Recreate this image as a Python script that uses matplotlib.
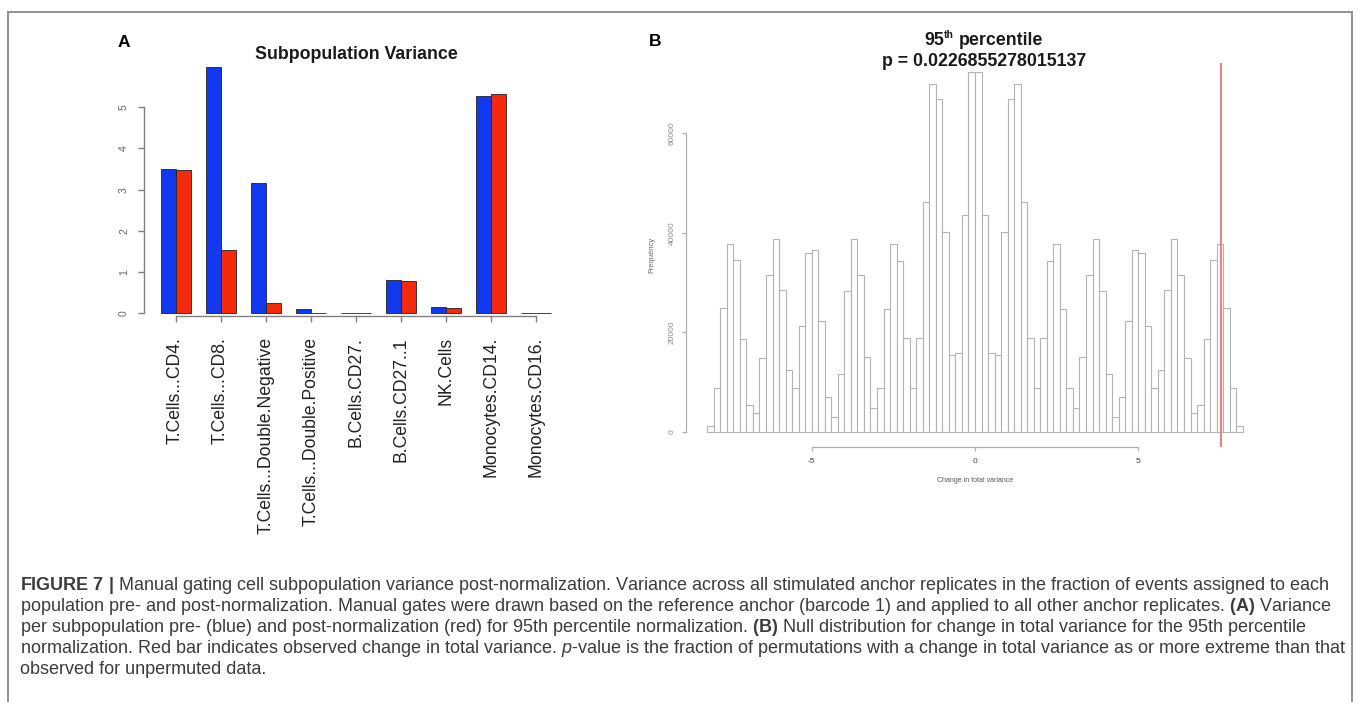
import numpy as np
import matplotlib
matplotlib.use("Agg")
import matplotlib.pyplot as plt
from matplotlib.lines import Line2D
from matplotlib import font_manager

# ---------------- data ----------------
categories = ["T.Cells...CD4.", "T.Cells...CD8.", "T.Cells...Double.Negative",
              "T.Cells...Double.Positive", "B.Cells.CD27.", "B.Cells.CD27..1",
              "NK.Cells", "Monocytes.CD14.", "Monocytes.CD16."]
pre_variance = [3.50, 5.97, 3.17, 0.11, 0.01, 0.80, 0.16, 5.27, 0.01]
post_variance = [3.48, 1.54, 0.24, 0.015, 0.01, 0.79, 0.13, 5.31, 0.01]
a_yticks = [0, 1, 2, 3, 4, 5]

hist_lo, hist_hi, hist_nbins = -8.2, 8.2, 82
hist_counts = [1150, 8700, 24800, 37800, 34500, 18600, 5300, 3700, 14800, 31400,
               38800, 28500, 12400, 8700, 21300, 36000, 36600, 22300, 7000, 3000,
               11600, 28300, 38700, 31500, 15000, 4700, 8700, 24600, 37700, 34400,
               18900, 8850, 18900, 46200, 69900, 66900, 40100, 15400, 15900, 43500,
               72400,
               72400, 43500, 15900, 15400, 40100, 66900, 69900, 46200, 18900, 8850,
               18900, 34400, 37700, 24600, 8700, 4700, 15000, 31500, 38700, 28300,
               11600, 3000, 7000, 22300, 36600, 36000, 21300, 8700, 12400, 28500,
               38800, 31400, 14800, 3700, 5300, 18600, 34500, 37800, 24800, 8700,
               1150]
observed_change = 7.52
b_xticks = [-5, 0, 5]
b_yticks = [0, 20000, 40000, 60000]
title_a = "Subpopulation Variance"
title_b_line2 = "p = 0.0226855278015137"

caption_lines = [
    r"$\mathbf{FIGURE\ 7\ |}$ Manual gating cell subpopulation variance post-normalization. Variance across all stimulated anchor replicates in the fraction of events assigned to each",
    r"population pre- and post-normalization. Manual gates were drawn based on the reference anchor (barcode 1) and applied to all other anchor replicates. $\mathbf{(A)}$ Variance",
    r"per subpopulation pre- (blue) and post-normalization (red) for 95th percentile normalization. $\mathbf{(B)}$ Null distribution for change in total variance for the 95th percentile",
    r"normalization. Red bar indicates observed change in total variance. $\mathit{p}$-value is the fraction of permutations with a change in total variance as or more extreme than that",
    "observed for unpermuted data.",
]

# ---------------- setup ----------------
W, H, DPI = 1358, 702, 100
plt.rcParams["font.family"] = ["Liberation Sans", "DejaVu Sans"]
plt.rcParams["axes.unicode_minus"] = False


def has_font(name):
    try:
        font_manager.findfont(font_manager.FontProperties(family=name),
                              fallback_to_default=False)
        return True
    except Exception:
        return False


cap_family = "Liberation Sans Narrow" if has_font("Liberation Sans Narrow") else "Liberation Sans"
plt.rcParams["mathtext.fontset"] = "custom"
plt.rcParams["mathtext.rm"] = cap_family
plt.rcParams["mathtext.bf"] = cap_family + ":bold"
plt.rcParams["mathtext.it"] = cap_family + ":italic"

fig = plt.figure(figsize=(W / DPI, H / DPI), dpi=DPI)
fig.patch.set_facecolor("white")


def box(left, top, right, bottom):
    return [left / W, 1 - bottom / H, (right - left) / W, (bottom - top) / H]


def fx(x):
    return x / W


def fy(y):
    return 1 - y / H


PT = 72.0 / DPI  # points per pixel

# ---------------- frame ----------------
for xs, ys in [((8, 1352), (12, 12)), ((8, 8), (12, 702)), ((1352, 1352), (12, 702))]:
    fig.add_artist(Line2D([fx(xs[0]), fx(xs[1])], [fy(ys[0]), fy(ys[1])],
                          transform=fig.transFigure, color="#8a8a8a", lw=1.3))

# ---------------- panel A ----------------
axA = fig.add_axes(box(144, 57.4, 566, 316))
xb = [1 + 3 * i for i in range(len(categories))]
xr = [2 + 3 * i for i in range(len(categories))]
axA.bar(xb, pre_variance, width=1, align="edge", color="#1238f0",
        edgecolor="#222222", linewidth=0.6)
axA.bar(xr, post_variance, width=1, align="edge", color="#f5290c",
        edgecolor="#222222", linewidth=0.6)
axA.set_xlim(-0.1, 28.0)
axA.set_ylim(-0.065, 6.21)
centers = [2 + 3 * i for i in range(len(categories))]
axA.set_xticks(centers)
axA.set_xticklabels(categories)
axA.set_yticks(a_yticks)
axA.set_yticklabels([str(v) for v in a_yticks])
for s in ["top", "right"]:
    axA.spines[s].set_visible(False)
axA.spines["left"].set_bounds(0, 5)
axA.spines["bottom"].set_bounds(centers[0], centers[-1])
for s in ["left", "bottom"]:
    axA.spines[s].set_color("#808080")
    axA.spines[s].set_linewidth(1.0)
axA.tick_params(axis="x", length=6 * PT, width=1.0, color="#808080",
                labelsize=12.7, labelcolor="#222222", labelrotation=90, pad=15 * PT)
axA.tick_params(axis="y", length=6 * PT, width=1.0, color="#808080",
                labelsize=7.5, labelcolor="#666666", labelrotation=90, pad=9 * PT)
for lab in axA.get_yticklabels():
    lab.set_va("center")
axA.patch.set_alpha(0)

fig.text(fx(118), fy(47), "A", fontsize=12.5, weight="bold", ha="left", va="baseline")
fig.text(fx(356), fy(59.3), title_a, fontsize=12.8, weight="bold", ha="center",
         va="baseline", color="#1a1a1a")

# ---------------- panel B ----------------
axB = fig.add_axes(box(686, 62.7, 1264, 446.7))
edges = np.linspace(hist_lo, hist_hi, hist_nbins + 1)
axB.bar(edges[:-1], hist_counts, width=edges[1] - edges[0], align="edge",
        facecolor="white", edgecolor="#b3b3b3", linewidth=0.8)
axB.axvline(observed_change, color="#f28080", lw=1.5)
axB.set_xlim(-8.849, 8.85)
axB.set_ylim(-3015, 74170)
axB.set_xticks(b_xticks)
axB.set_xticklabels([str(v) for v in b_xticks])
axB.set_yticks(b_yticks)
axB.set_yticklabels([str(v) for v in b_yticks])
for s in ["top", "right"]:
    axB.spines[s].set_visible(False)
axB.spines["left"].set_bounds(0, 60000)
axB.spines["bottom"].set_bounds(-5, 5)
for s in ["left", "bottom"]:
    axB.spines[s].set_color("#b0b0b0")
    axB.spines[s].set_linewidth(0.9)
axB.tick_params(axis="x", length=3.5 * PT, width=0.9, color="#b0b0b0",
                labelsize=6, labelcolor="#444444", pad=8 * PT)
axB.tick_params(axis="y", length=4 * PT, width=0.9, color="#b0b0b0",
                labelsize=6, labelcolor="#8a8a8a", labelrotation=90, pad=6 * PT)
for lab in axB.get_yticklabels():
    lab.set_va("center")
axB.set_xlabel("Change in total variance", fontsize=5, color="#555555")
axB.xaxis.set_label_coords(0.5, (446.7 - 477) / 384.0)
axB.set_ylabel("Frequency", fontsize=5.5, color="#666666")
axB.yaxis.set_label_coords((652 - 686) / 578.0 + 0.006, 0.5)
axB.patch.set_alpha(0)

fig.text(fx(649), fy(46), "B", fontsize=12.5, weight="bold", ha="left", va="baseline")

renderer = fig.canvas.get_renderer()

# title B line 1 : 95^th percentile
big, small = 12.8, 7.6
t95 = fig.text(0, fy(45), "95", fontsize=big, weight="bold", ha="left", va="baseline",
               color="#1a1a1a")
tth = fig.text(0, fy(45 - 6.5), "th", fontsize=small, weight="bold", ha="left",
               va="baseline", color="#1a1a1a")
tpc = fig.text(0, fy(45), "percentile", fontsize=big, weight="bold", ha="left",
               va="baseline", color="#1a1a1a")
w95 = t95.get_window_extent(renderer).width
wth = tth.get_window_extent(renderer).width
wpc = tpc.get_window_extent(renderer).width
space = 0.278 * big / PT
total = w95 + wth + space + wpc
x0 = 983.5 - total / 2
t95.set_x(fx(x0))
tth.set_x(fx(x0 + w95 + 0.5))
tpc.set_x(fx(x0 + w95 + wth + space))
fig.text(fx(984), fy(65.5), title_b_line2, fontsize=big, weight="bold", ha="center",
         va="baseline", color="#1a1a1a")

# ---------------- caption ----------------
cap_x = 20
cap_base = [590, 611, 632, 653, 674]
cap_texts = []
for line, yb in zip(caption_lines, cap_base):
    t = fig.text(fx(cap_x), fy(yb), line, fontsize=12, family=cap_family,
                 color="#3c3c3c", ha="left", va="baseline")
    cap_texts.append(t)
wmax = max(t.get_window_extent(renderer).width for t in cap_texts)
cap_size = 12 * (1320.0 / wmax)
for t in cap_texts:
    t.set_fontsize(cap_size)

fig.savefig("out.png", dpi=DPI, facecolor="white")
